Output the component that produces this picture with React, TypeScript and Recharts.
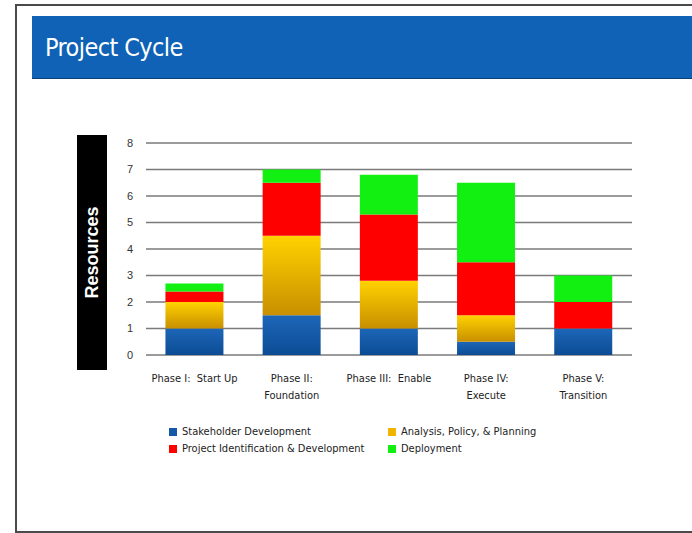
import { Bar, BarChart, CartesianGrid, XAxis, YAxis } from 'recharts';

const phases = [
  'Phase I:  Start Up',
  'Phase II:\nFoundation',
  'Phase III:  Enable',
  'Phase IV:\nExecute',
  'Phase V:\nTransition',
];
const stakeholder = [1, 1.5, 1, 0.5, 1];
const analysis = [1, 3, 1.8, 1, 0];
const projectId = [0.4, 2, 2.5, 2, 1];
const deployment = [0.3, 0.5, 1.5, 3, 1];
const yTicks = [0, 1, 2, 3, 4, 5, 6, 7, 8];

const series = [
  { key: 'stakeholder', name: 'Stakeholder Development', fill: 'url(#gBlue)', swatch: '#125aa8' },
  { key: 'analysis', name: 'Analysis, Policy, & Planning', fill: 'url(#gGold)', swatch: '#f0b400' },
  { key: 'projectId', name: 'Project Identification & Development', fill: '#ff0000', swatch: '#ff0000' },
  { key: 'deployment', name: 'Deployment', fill: '#11f011', swatch: '#11f011' },
];

const data = phases.map((phase, i) => ({
  phase,
  stakeholder: stakeholder[i],
  analysis: analysis[i],
  projectId: projectId[i],
  deployment: deployment[i],
}));

const narrow = '"Liberation Sans Narrow", "DejaVu Sans Condensed", "Liberation Sans", Arial, sans-serif';

function PhaseTick({ x, y, payload }: any) {
  const lines = String(payload.value).split('\n');
  return (
    <text x={x} y={y} textAnchor="middle" fontSize={11} fill="#222" fontFamily={narrow}>
      {lines.map((l, i) => (
        <tspan key={i} x={x} dy={i === 0 ? 19 : 17} style={{ whiteSpace: 'pre' }}>
          {l}
        </tspan>
      ))}
    </text>
  );
}

// two-column legend under the plot
function LegendBox() {
  const rows = [
    [series[0], series[1]],
    [series[2], series[3]],
  ];
  return (
    <div style={{ fontFamily: narrow, fontSize: 11, color: '#222' }}>
      {rows.map((row, r) => (
        <div key={r} style={{ display: 'flex', height: 17, alignItems: 'center' }}>
          {row.map((s, c) => (
            <div key={s.key} style={{ display: 'flex', alignItems: 'center', width: c === 0 ? 219 : 200 }}>
              <span style={{ width: 8, height: 8, background: s.swatch, marginRight: 5, display: 'inline-block' }} />
              {s.name}
            </div>
          ))}
        </div>
      ))}
    </div>
  );
}

export default function App() {
  return (
    <div style={{ position: 'absolute', left: 0, top: 0, width: 692, height: 533, background: '#fff', overflow: 'hidden' }}>
      <div
        style={{
          position: 'absolute',
          left: 15,
          top: 4,
          width: 700,
          height: 525,
          border: '2px solid #4a4a4a',
          borderRight: 'none',
        }}
      />
      <div
        style={{
          position: 'absolute',
          left: 32,
          top: 16,
          width: 662,
          height: 63,
          background: '#0f62b5',
          borderBottom: '1px solid #0a3f78',
          color: '#fff',
          fontFamily: narrow,
          fontSize: 25,
          letterSpacing: -0.6,
          lineHeight: '63px',
          paddingLeft: 13,
          boxSizing: 'border-box',
        }}
      >
        Project Cycle
      </div>
      <div
        style={{
          position: 'absolute',
          left: 77,
          top: 135,
          width: 30,
          height: 235,
          background: '#000',
          display: 'flex',
          alignItems: 'center',
          justifyContent: 'center',
        }}
      >
        <span
          style={{
            transform: 'rotate(-90deg)',
            color: '#fff',
            fontFamily: '"Liberation Sans", Arial, sans-serif',
            fontWeight: 700,
            fontSize: 18,
            whiteSpace: 'nowrap',
          }}
        >
          Resources
        </span>
      </div>
      <div style={{ position: 'absolute', left: 0, top: 0 }}>
        <BarChart
          width={692}
          height={533}
          data={data}
          margin={{ top: 143, right: 60, bottom: 138, left: 116 }}
          barCategoryGap="20%"
        >
          <defs>
            <linearGradient id="gBlue" x1="0" y1="0" x2="0" y2="1">
              <stop offset="0%" stopColor="#1d66b8" />
              <stop offset="100%" stopColor="#0c4c94" />
            </linearGradient>
            <linearGradient id="gGold" x1="0" y1="0" x2="0" y2="1">
              <stop offset="0%" stopColor="#ffd200" />
              <stop offset="100%" stopColor="#c88f00" />
            </linearGradient>
          </defs>
          <CartesianGrid vertical={false} stroke="#7a7a7a" strokeWidth={1.3} />
          <XAxis dataKey="phase" axisLine={false} tickLine={false} tick={<PhaseTick />} height={40} interval={0} />
          <YAxis
            width={30}
            domain={[0, 8]}
            ticks={yTicks}
            axisLine={false}
            tickLine={false}
            dx={-5}
            tick={{ fontSize: 11, fill: '#333', fontFamily: '"Liberation Sans", Arial, sans-serif' }}
          />
          {series.map((s) => (
            <Bar key={s.key} dataKey={s.key} name={s.name} stackId="a" fill={s.fill} isAnimationActive={false} />
          ))}
        </BarChart>
      </div>
      <div style={{ position: 'absolute', left: 169, top: 423 }}>
        <LegendBox />
      </div>
    </div>
  );
}
